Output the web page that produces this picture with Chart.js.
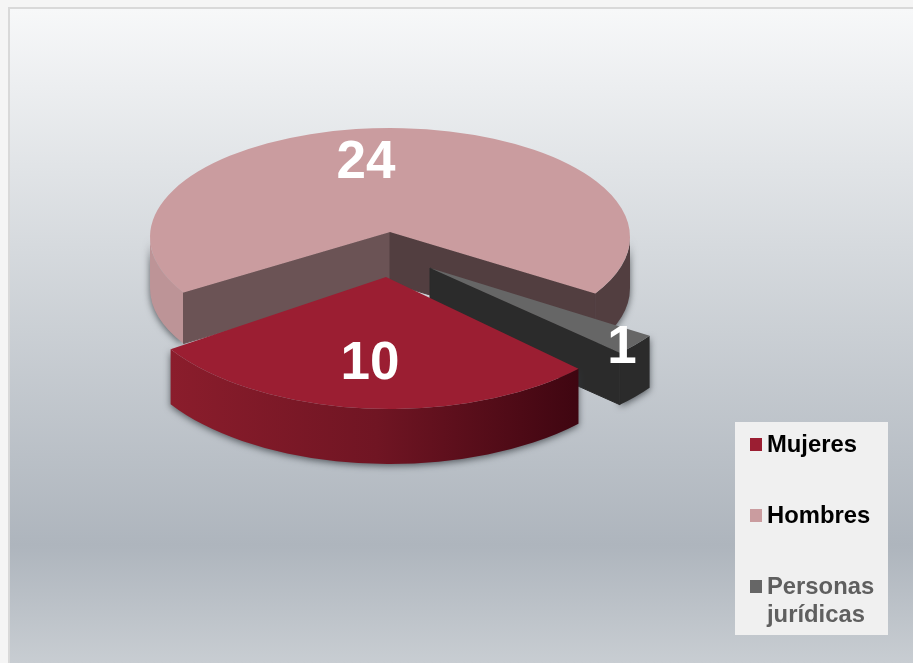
<!DOCTYPE html>
<html>
<head>
<meta charset="utf-8">
<style>
    html, body { margin: 0; padding: 0; width: 913px; height: 663px; overflow: hidden; background: #f5f5f5; }
    #frame {
        position: absolute; left: 8px; top: 7px; width: 905px; height: 656px;
        box-sizing: border-box; border: solid #d9d9d9; border-width: 2px 0 0 2px;
        background: linear-gradient(to bottom, #f7f8f9 0%, #d6dade 36%, #aeb5bd 82%, #c8cdd2 100%);
    }
    #chart { position: absolute; left: 0; top: 0; }
</style>
<script src="https://cdn.jsdelivr.net/npm/chart.js@4/dist/chart.umd.min.js"></script>
</head>
<body>
<div id="frame"></div>
<canvas id="chart" width="913" height="663"></canvas>
<script>
const categories = ["Mujeres", "Hombres", "Personas jurídicas"];
const values = [10, 24, 1];

const legendLines = [["Mujeres"], ["Hombres"], ["Personas", "jurídicas"]];
const legendTextColors = ["#000000", "#000000", "#5f5f5f"];
const topColors = ["#9b1e32", "#ca9c9f", "#666666"];

// where each slice sits in the fake 3d view. same order as categories
const sliceViews = [
    { ax: 386, ay: 277, cx: 390, cy: 277, rx: 262, ry: 132, depth: 55, trim: 0,
      wall: ["#8b1d2c", "#701523", "#3d0510"], cut: null, cut2: null, label: [370, 364] },
    { ax: 390, ay: 232, cx: 390, cy: 237, rx: 240, ry: 109, depth: 51, trim: 2.5,
      wall: ["#bd9497", "#523e40", "#523e40"], cut: "#523e40", cut2: "#6b5355", label: [366, 163] },
    { ax: 430, ay: 268, cx: 430, cy: 268, rx: 264, ry: 122, depth: 52, trim: 0,
      wall: ["#2b2b2b", "#2b2b2b", "#2b2b2b"], cut: null, cut2: "#2b2b2b", label: [622, 348] }
];
const drawOrder = [1, 2, 0];

const point = (v, a, drop) => [v.cx + v.rx * Math.cos(a), v.cy + drop + v.ry * Math.sin(a)];

const fillCut = (ctx, v, a, color) => {
    const p = point(v, a, 0);
    ctx.fillStyle = color;
    ctx.strokeStyle = color;
    ctx.lineWidth = 1;
    ctx.beginPath();
    ctx.moveTo(v.ax, v.ay);
    ctx.lineTo(p[0], p[1]);
    ctx.lineTo(p[0], p[1] + v.depth);
    ctx.lineTo(v.ax, v.ay + v.depth);
    ctx.closePath();
    ctx.fill();
    ctx.stroke();
};

const fillWall = (ctx, v, from, to) => {
    const grad = ctx.createLinearGradient(v.cx - v.rx * 0.85, 0, v.cx + v.rx * 0.75, 0);
    grad.addColorStop(0, v.wall[0]);
    grad.addColorStop(0.5, v.wall[1]);
    grad.addColorStop(1, v.wall[2]);
    ctx.save();
    ctx.shadowColor = "rgba(50,55,60,0.75)";
    ctx.shadowBlur = 7;
    ctx.shadowOffsetY = 2;
    ctx.fillStyle = grad;
    ctx.beginPath();
    ctx.ellipse(v.cx, v.cy, v.rx, v.ry, 0, from, to);
    ctx.ellipse(v.cx, v.cy + v.depth, v.rx, v.ry, 0, to, from, true);
    ctx.closePath();
    ctx.fill();
    ctx.restore();
};

const pie3d = {
    id: "pie3d",
    beforeDatasetDraw(chart) {
        const ctx = chart.ctx;
        const arcs = chart.getDatasetMeta(0).data;

        drawOrder.forEach(i => {
            const v = sliceViews[i];
            const trim = v.trim * Math.PI / 180;
            const a0 = arcs[i].startAngle + trim;
            const a1 = arcs[i].endAngle - trim;

            // only the part of the rim facing the viewer shows
            if (a1 - a0 > Math.PI) {
                fillWall(ctx, v, a0, Math.PI);
                fillWall(ctx, v, Math.PI * 2, a1);
            } else {
                fillWall(ctx, v, a0, a1);
            }
            if (v.cut2) fillCut(ctx, v, i === 2 ? a1 : a0, v.cut2);
            if (v.cut) fillCut(ctx, v, a1, v.cut);

            ctx.fillStyle = topColors[i];
            ctx.beginPath();
            ctx.moveTo(v.ax, v.ay);
            ctx.ellipse(v.cx, v.cy, v.rx, v.ry, 0, a0, a1);
            ctx.closePath();
            ctx.fill();
        });

        ctx.fillStyle = "#ffffff";
        ctx.font = "bold 53px 'Liberation Sans'";
        ctx.textAlign = "center";
        ctx.textBaseline = "middle";
        values.forEach((val, i) => {
            ctx.fillText(String(val), sliceViews[i].label[0], sliceViews[i].label[1]);
        });
        return false;
    }
};

const boxLegend = {
    id: "boxLegend",
    afterDraw(chart) {
        const ctx = chart.ctx;
        ctx.fillStyle = "#f0f0f0";
        ctx.fillRect(735, 422, 153, 213);

        ctx.font = "bold 23.8px 'Liberation Sans'";
        ctx.textAlign = "left";
        ctx.textBaseline = "alphabetic";
        legendLines.forEach((lines, i) => {
            const baseline = 452 + i * 71;
            ctx.fillStyle = topColors[i];
            ctx.fillRect(750, baseline - 14, 12, 13);
            ctx.fillStyle = legendTextColors[i];
            lines.forEach((line, n) => {
                ctx.fillText(line, 767, baseline + n * 28);
            });
        });
    }
};

new Chart(document.getElementById("chart"), {
    type: "pie",
    data: {
        labels: categories,
        datasets: [{ data: values, backgroundColor: topColors, borderWidth: 0 }]
    },
    options: {
        responsive: false,
        animation: false,
        rotation: 134,
        plugins: {
            legend: { display: false },
            tooltip: { enabled: false }
        }
    },
    plugins: [pie3d, boxLegend]
});
</script>
</body>
</html>
